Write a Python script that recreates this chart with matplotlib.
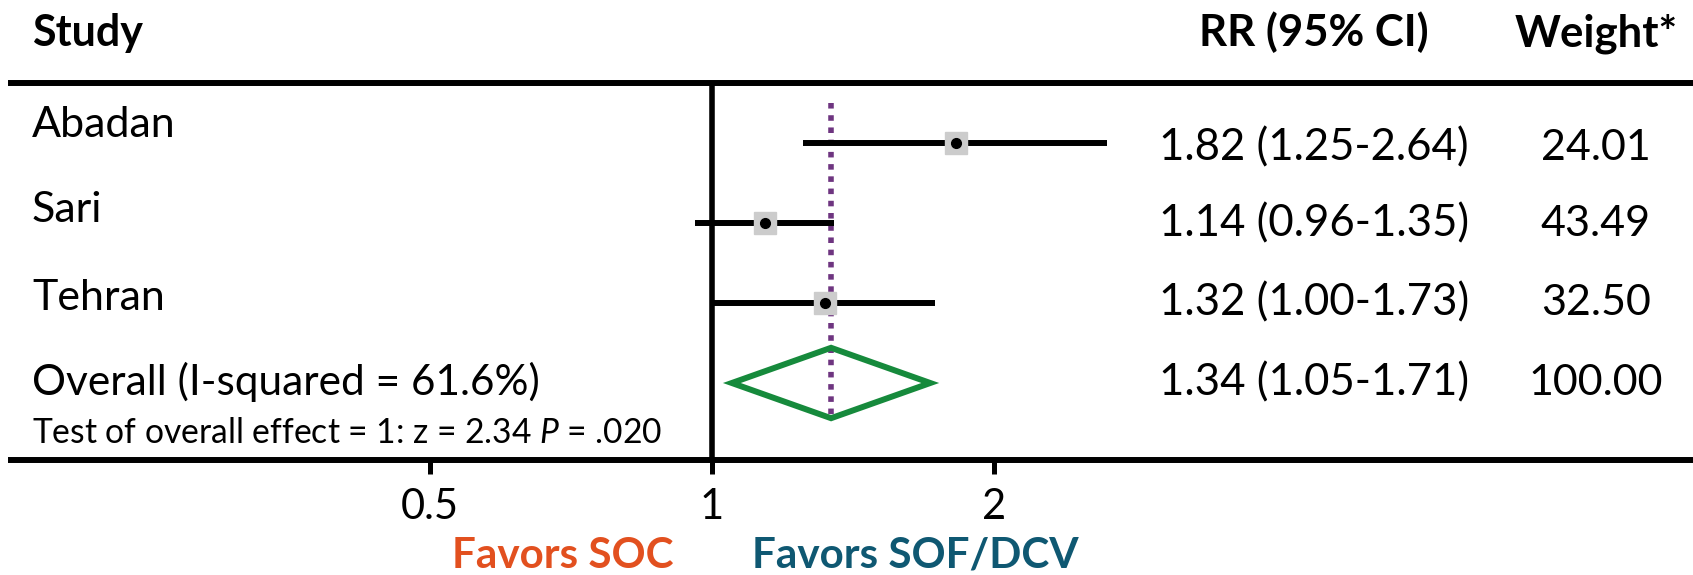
import numpy as np
import matplotlib
matplotlib.use("Agg")
import matplotlib.pyplot as plt

plt.rcParams['font.family'] = ['Lato', 'DejaVu Sans']
plt.rcParams['mathtext.fontset'] = 'custom'
plt.rcParams['mathtext.rm'] = 'Lato'
plt.rcParams['mathtext.it'] = 'Lato:italic'

# данные
studies = ["Abadan", "Sari", "Tehran"]
rr = [1.82, 1.14, 1.32]
ci_low = [1.25, 0.96, 1.00]
ci_high = [2.64, 1.35, 1.73]
weights = ["24.01", "43.49", "32.50"]

overall_label = "Overall (I-squared = 61.6%)"
overall_rr = 1.34
overall_low = 1.05
overall_high = 1.71
overall_weight = "100.00"
test_text = r"Test of overall effect = 1: z = 2.34 $\mathit{P}$ = .020"

xticks = [0.5, 1, 2]
xtick_labels = ["0.5", "1", "2"]

# размеры в пикселях
W, H = 1693, 575
X1_PX, PX_PER_DOUBLING = 712, 282
AX_LEFT, AX_RIGHT = 11, 1693
RULE_TOP, RULE_BOT = 83, 460
ROW0_PX, ROW_STEP = 143, 80

fig = plt.figure(figsize=(W / 100, H / 100), dpi=100)
ax = fig.add_axes([AX_LEFT / W, 1 - RULE_BOT / H,
                   (AX_RIGHT - AX_LEFT) / W, (RULE_BOT - RULE_TOP) / H])
ax.set_xscale('log')
ax.set_xlim(2 ** ((AX_LEFT - X1_PX) / PX_PER_DOUBLING),
            2 ** ((AX_RIGHT - X1_PX) / PX_PER_DOUBLING))
ax.set_ylim((RULE_BOT - ROW0_PX) / ROW_STEP, (RULE_TOP - ROW0_PX) / ROW_STEP)
ax.patch.set_alpha(0)

for s in ['left', 'right']:
    ax.spines[s].set_visible(False)
for s in ['top', 'bottom']:
    ax.spines[s].set_linewidth(4.3)
ax.set_yticks([])
ax.set_xticks(xticks)
ax.set_xticklabels(xtick_labels)
ax.xaxis.set_minor_locator(matplotlib.ticker.NullLocator())
ax.tick_params(axis='x', direction='out', length=10, width=3.6, pad=10, labelsize=30)

# линия отсутствия эффекта
ax.axvline(1, color='black', lw=4, zorder=2)

# пунктир общего эффекта
ax.plot([overall_rr, overall_rr], [-0.5, 3.45], color='#6E3580', lw=4,
        linestyle=(0, (1, 1.2)), zorder=3)

rows = np.arange(len(studies))
for i in rows:
    ax.plot([ci_low[i], ci_high[i]], [i, i], color='black', lw=4.3,
            solid_capstyle='butt', zorder=4)
ax.plot(rr, rows, 's', color='#CCCCCC', ms=15.8, zorder=5)
ax.plot(rr, rows, 'o', color='black', ms=7, zorder=6)

# ромб
n = len(studies)
dx = [overall_low, overall_rr, overall_high, overall_rr]
dy = [n, n - 0.44, n, n + 0.44]
ax.fill(dx, dy, facecolor='none', edgecolor='#168A3C', lw=4.3,
        joinstyle='miter', zorder=5)

def px(x, y):
    return x / W, 1 - y / H

# заголовки
fig.text(*px(32, 46), "Study", fontsize=31, fontweight='bold', va='baseline')
fig.text(*px(1314, 46), "RR (95% CI)", fontsize=31.5, fontweight='bold', va='baseline', ha='center')
fig.text(*px(1596, 46), "Weight*", fontsize=31.5, fontweight='bold', va='baseline', ha='center')

label_base = [137, 222, 310]
value_base = [160, 236, 315]
for i, name in enumerate(studies):
    fig.text(*px(32, label_base[i]), name, fontsize=31, va='baseline')
    fig.text(*px(1314, value_base[i]),
             f"{rr[i]:.2f} ({ci_low[i]:.2f}-{ci_high[i]:.2f})",
             fontsize=31.5, va='baseline', ha='center')
    fig.text(*px(1596, value_base[i]), weights[i], fontsize=31, va='baseline', ha='center')

fig.text(*px(32, 395), overall_label, fontsize=30.5, va='baseline')
fig.text(*px(1314, 395), f"{overall_rr:.2f} ({overall_low:.2f}-{overall_high:.2f})",
         fontsize=31.5, va='baseline', ha='center')
fig.text(*px(1596, 395), overall_weight, fontsize=31, va='baseline', ha='center')
fig.text(*px(32, 443), test_text, fontsize=24.2, va='baseline')

fig.text(*px(563, 568), "Favors SOC", fontsize=30.4, fontweight='bold',
         color='#E2501F', va='baseline', ha='center')
fig.text(*px(915, 568), "Favors SOF/DCV", fontsize=30.4, fontweight='bold',
         color='#0F5872', va='baseline', ha='center')

fig.savefig("out.png", dpi=100)
